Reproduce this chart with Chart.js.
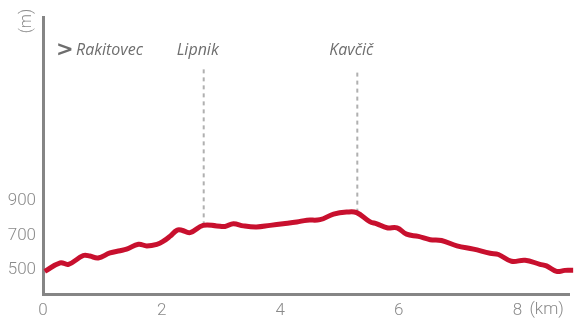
<!DOCTYPE html>
<html>
<head>
<meta charset="utf-8">
<script src="https://cdn.jsdelivr.net/npm/chart.js@4.4.1/dist/chart.umd.min.js"></script>
<style>
  html, body { margin: 0; padding: 0; background: #fff; }
  #wrap { width: 580px; height: 319px; }
</style>
</head>
<body>
<div id="wrap"><canvas id="profile"></canvas></div>
<script>
// elevation profile (km, m)
const distanceKm = [0.03, 0.29, 0.43, 0.68, 0.79, 0.93, 1.13, 1.30, 1.41, 1.61, 1.75, 1.92, 2.03, 2.14, 2.26, 2.34, 2.48, 2.70, 2.93, 3.07, 3.21, 3.38, 3.60, 3.83, 4.05, 4.28, 4.45, 4.67, 4.90, 5.12, 5.29, 5.51, 5.63, 5.80, 5.97, 6.13, 6.33, 6.53, 6.72, 6.98, 7.26, 7.54, 7.68, 7.90, 8.13, 8.38, 8.49, 8.66, 8.80, 8.94];
const elevationM = [491, 541, 532, 583, 580, 569, 598, 611, 620, 648, 639, 648, 666, 694, 730, 730, 716, 758, 755, 752, 767, 755, 749, 758, 767, 777, 788, 791, 823, 835, 832, 780, 767, 744, 744, 707, 694, 675, 670, 639, 620, 596, 589, 550, 556, 532, 523, 491, 497, 497];

const waypointNames = ['Lipnik', 'Kavčič'];
const waypointKm = [2.71, 5.30];
const waypointElev = [758, 832];
const startName = 'Rakitovec';

const xTicks = [0, 2, 4, 6, 8];
const yTicks = [500, 700, 900];

const lineColor = '#c8102e';
const axisColor = '#858585';
const textColor = '#6e6e6e';
const labelElev = 1668;   // top of the dashed markers
const nameElev = 1770;    // height of place names

const profile = distanceKm.map((x, i) => ({ x, y: elevationM[i] }));
const markers = waypointKm.map((km, i) => ({
  label: waypointNames[i],
  data: [{ x: km, y: waypointElev[i] }, { x: km, y: labelElev }],
  borderColor: '#b0b0b0',
  borderWidth: 2,
  borderDash: [4, 4],
  pointRadius: 0,
  fill: false,
  order: 2
}));

const labelsPlugin = {
  id: 'placeLabels',
  afterDraw(chart) {
    const { ctx, scales: { x, y } } = chart;
    const ty = y.getPixelForValue(nameElev);
    ctx.save();
    ctx.fillStyle = textColor;
    ctx.textBaseline = 'middle';
    ctx.font = 'italic 16px "Open Sans"';
    ctx.textAlign = 'center';
    waypointNames.forEach((name, i) => {
      ctx.fillText(name, x.getPixelForValue(waypointKm[i]) - 6, ty);
    });
    ctx.textAlign = 'left';
    ctx.font = 'bold 21px "DejaVu Sans"';
    ctx.fillText('>', 56, ty);
    ctx.font = 'italic 16px "Open Sans"';
    ctx.fillText(startName, 76, ty);

    // unit labels
    ctx.font = '300 17px Roboto';
    ctx.fillStyle = '#8a8a8a';
    ctx.textAlign = 'left';
    ctx.textBaseline = 'top';
    ctx.fillText('(km)', x.getPixelForValue(8) + 12, 301);
    ctx.textBaseline = 'middle';
    ctx.translate(27, 21);
    ctx.rotate(-Math.PI / 2);
    ctx.textAlign = 'center';
    ctx.font = '300 16px Roboto';
    ctx.fillText('(m)', 0, 0);
    ctx.restore();
  }
};

new Chart(document.getElementById('profile'), {
  type: 'line',
  data: {
    datasets: [{
      label: 'Elevation',
      data: profile,
      borderColor: lineColor,
      borderWidth: 5,
      tension: 0.4,
      pointRadius: 0,
      fill: false,
      clip: false,
      order: 1
    }, ...markers]
  },
  options: {
    responsive: true,
    maintainAspectRatio: false,
    animation: false,
    layout: { padding: { top: 3, right: 11, left: 0, bottom: 0 } },
    plugins: { legend: { display: false }, tooltip: { enabled: false } },
    scales: {
      x: {
        type: 'linear',
        min: 0,
        max: 8.87,
        afterBuildTicks: s => { s.ticks = xTicks.map(v => ({ value: v })); },
        afterFit: s => { s.height = 25; },
        grid: { display: false, drawTicks: false },
        border: { display: true, color: axisColor, width: 3 },
        ticks: {
          color: '#8a8a8a',
          font: { family: 'Roboto', size: 17, weight: '300' },
          padding: 7,
          maxRotation: 0
        }
      },
      y: {
        min: 360,
        max: 1965,
        afterBuildTicks: s => { s.ticks = yTicks.map(v => ({ value: v })); },
        afterFit: s => { s.width = 43; },
        grid: { display: false, drawTicks: false },
        border: { display: true, color: axisColor, width: 3 },
        ticks: {
          color: '#8a8a8a',
          font: { family: 'Roboto', size: 17, weight: '300' },
          padding: 7
        }
      }
    }
  },
  plugins: [labelsPlugin]
});
</script>
</body>
</html>
